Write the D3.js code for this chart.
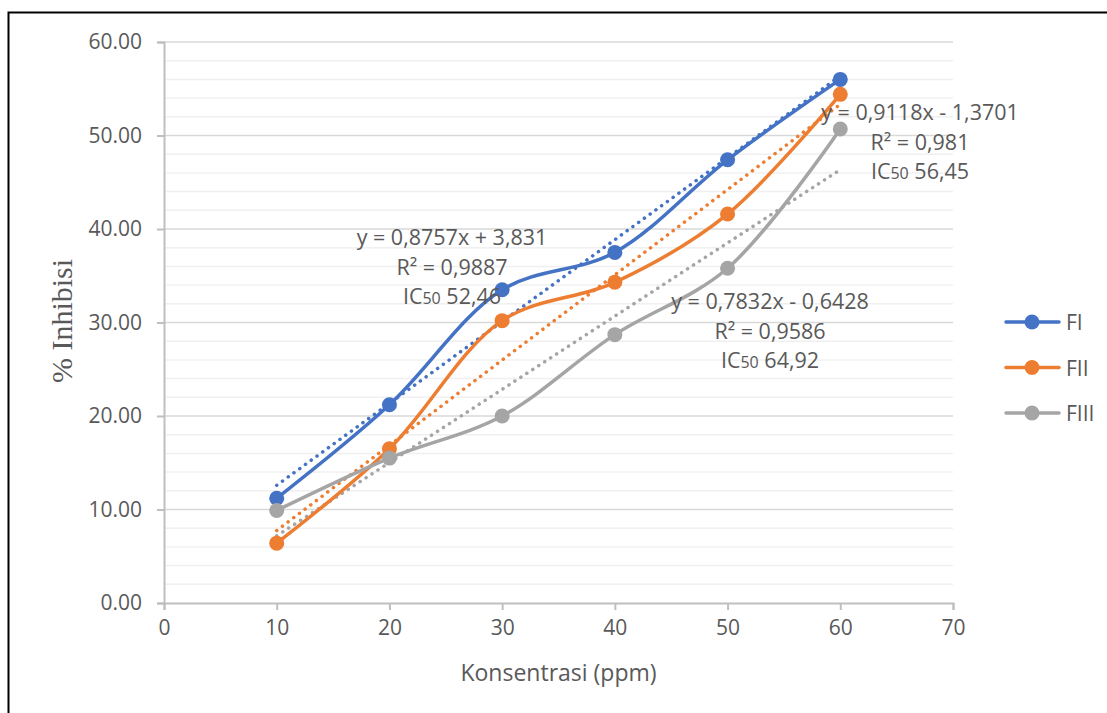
<!DOCTYPE html>
<html>
<head>
<meta charset="utf-8">
<script src="https://cdn.jsdelivr.net/npm/d3@7"></script>
<style>
  body { margin: 0; background: #fff; }
  svg { display: block; }
</style>
</head>
<body>
<div id="chart"></div>
<script>
// chart data
const concentrations = [10, 20, 30, 40, 50, 60];
const seriesNames = ['FI', 'FII', 'FIII'];
const fiValues = [11.2, 21.2, 33.5, 37.5, 47.4, 56.0];
const fiiValues = [6.4, 16.5, 30.2, 34.3, 41.6, 54.4];
const fiiiValues = [9.9, 15.5, 20.0, 28.7, 35.8, 50.7];
const slopes = [0.8757, 0.9118, 0.7832];
const intercepts = [3.831, -1.3701, -0.6428];
const equationLabels = ['y = 0,8757x + 3,831', 'y = 0,9118x - 1,3701', 'y = 0,7832x - 0,6428'];
const r2Labels = ['R² = 0,9887', 'R² = 0,981', 'R² = 0,9586'];
const ic50Labels = ['52,46', '56,45', '64,92'];
const xTicks = [0, 10, 20, 30, 40, 50, 60, 70];
const yTicks = [0, 10, 20, 30, 40, 50, 60];

const colors = ['#4472C4', '#ED7D31', '#A5A5A5'];
const allValues = [fiValues, fiiValues, fiiiValues];

const W = 1107, H = 713;
const svg = d3.select('#chart').append('svg').attr('width', W).attr('height', H);
const font = '"Open Sans", sans-serif';
const textColor = '#595959';

// outer frame
svg.append('rect')
  .attr('x', 8.5).attr('y', 12.5)
  .attr('width', W + 20).attr('height', H + 20)
  .attr('fill', 'none').attr('stroke', '#000').attr('stroke-width', 2);

const x = d3.scaleLinear().domain([0, 70]).range([164, 953]);
const y = d3.scaleLinear().domain([0, 60]).range([603, 42]);

// minor gridlines
svg.append('g').selectAll('line')
  .data(d3.range(0, 61, 2).filter(v => v % 10 !== 0))
  .join('line')
  .attr('x1', x(0)).attr('x2', x(70))
  .attr('y1', d => y(d)).attr('y2', d => y(d))
  .attr('stroke', '#F0F0F0').attr('stroke-width', 1.5);

// major gridlines
svg.append('g').selectAll('line')
  .data(yTicks.filter(v => v > 0))
  .join('line')
  .attr('x1', x(0)).attr('x2', x(70))
  .attr('y1', d => y(d)).attr('y2', d => y(d))
  .attr('stroke', '#D9D9D9').attr('stroke-width', 1.5);

// axes
const yAxis = svg.append('g')
  .attr('transform', `translate(${x(0)},0)`)
  .call(d3.axisLeft(y).tickValues(yTicks).tickFormat(d3.format('.2f')).tickSize(7).tickPadding(15));
const xAxis = svg.append('g')
  .attr('transform', `translate(0,${y(0)})`)
  .call(d3.axisBottom(x).tickValues(xTicks).tickSize(7).tickPadding(10));

[yAxis, xAxis].forEach(ax => {
  ax.select('.domain').attr('stroke', '#BFBFBF').attr('stroke-width', 2);
  ax.selectAll('.tick line').attr('stroke', '#BFBFBF').attr('stroke-width', 2);
  ax.selectAll('.tick text')
    .attr('fill', textColor)
    .style('font-family', font)
    .style('font-size', '21px');
});

// axis titles
svg.append('text')
  .attr('x', x(35)).attr('y', 681)
  .attr('text-anchor', 'middle')
  .attr('fill', textColor)
  .style('font-family', font).style('font-size', '23px')
  .text('Konsentrasi (ppm)');

svg.append('text')
  .attr('transform', 'translate(72,321) rotate(-90)')
  .attr('text-anchor', 'middle')
  .attr('fill', textColor)
  .style('font-family', '"Liberation Serif", serif').style('font-size', '30px')
  .text('% Inhibisi');

// trendlines (dotted)
const xFirst = concentrations[0], xLast = concentrations[concentrations.length - 1];
slopes.forEach((m, i) => {
  svg.append('line')
    .attr('x1', x(xFirst)).attr('y1', y(m * xFirst + intercepts[i]))
    .attr('x2', x(xLast)).attr('y2', y(m * xLast + intercepts[i]))
    .attr('stroke', colors[i]).attr('stroke-width', 3.5)
    .attr('stroke-linecap', 'round')
    .attr('stroke-dasharray', '0.1 7');
});

// smoothed series lines and markers
const line = d3.line()
  .x((d, i) => x(concentrations[i]))
  .y(d => y(d))
  .curve(d3.curveCatmullRom.alpha(0.5));

allValues.forEach((vals, i) => {
  svg.append('path')
    .datum(vals)
    .attr('d', line)
    .attr('fill', 'none')
    .attr('stroke', colors[i]).attr('stroke-width', 3.5)
    .attr('stroke-linecap', 'round');
});
allValues.forEach((vals, i) => {
  svg.append('g').selectAll('circle')
    .data(vals)
    .join('circle')
    .attr('cx', (d, j) => x(concentrations[j]))
    .attr('cy', d => y(d))
    .attr('r', 7.5)
    .attr('fill', colors[i]);
});

// trendline labels
const labelPos = [[452, 237], [920, 112], [770, 301]];
const lineGap = 29.5;
labelPos.forEach(([lx, ly], i) => {
  const g = svg.append('g')
    .attr('fill', textColor)
    .style('font-family', font).style('font-size', '21.5px')
    .attr('text-anchor', 'middle');
  g.append('text').attr('x', lx).attr('y', ly + 8).text(equationLabels[i]);
  g.append('text').attr('x', lx).attr('y', ly + lineGap + 8).text(r2Labels[i]);
  const t = g.append('text').attr('x', lx).attr('y', ly + 2 * lineGap + 8);
  t.append('tspan').text('IC');
  t.append('tspan').style('font-size', '16px').text('50');
  t.append('tspan').text(' ' + ic50Labels[i]);
});

// legend
const legend = svg.append('g');
seriesNames.forEach((name, i) => {
  const ly = 322 + i * 45.5;
  legend.append('line')
    .attr('x1', 1006).attr('x2', 1059)
    .attr('y1', ly).attr('y2', ly)
    .attr('stroke', colors[i]).attr('stroke-width', 3.5)
    .attr('stroke-linecap', 'round');
  legend.append('circle')
    .attr('cx', 1032).attr('cy', ly).attr('r', 7.5)
    .attr('fill', colors[i]);
  legend.append('text')
    .attr('x', 1066).attr('y', ly + 8)
    .attr('fill', textColor)
    .style('font-family', font).style('font-size', '21px')
    .text(name);
});
</script>
</body>
</html>
